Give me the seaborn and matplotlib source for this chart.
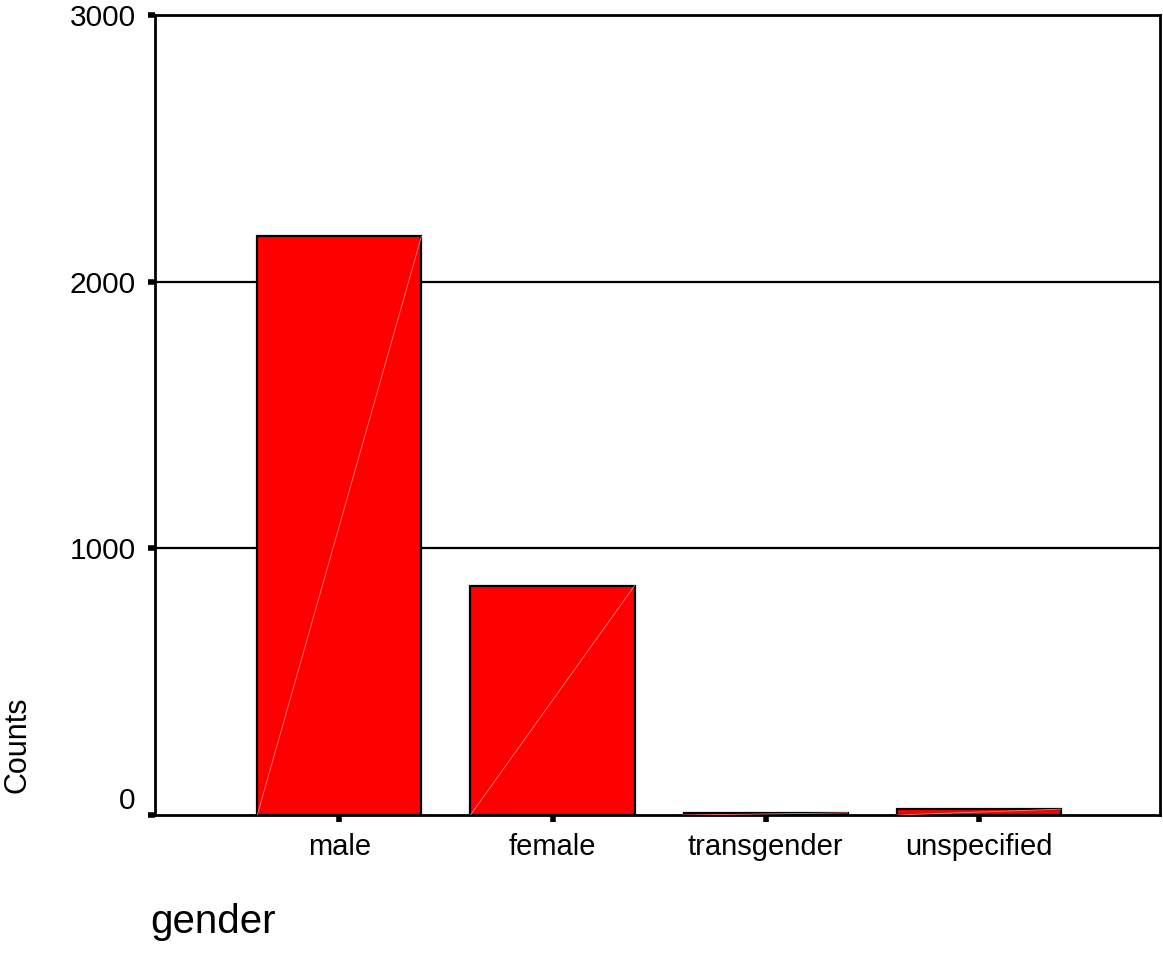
import matplotlib
matplotlib.use("Agg")
import matplotlib.pyplot as plt
import seaborn as sns
import pandas as pd

categories = ["male", "female", "transgender", "unspecified"]
counts = [2170, 860, 8, 22]
yticks = [0, 1000, 2000, 3000]

sns.set_theme(style="white")
plt.rcParams["font.family"] = ["Liberation Sans", "DejaVu Sans"]
plt.rcParams["text.color"] = "black"
plt.rcParams["xtick.color"] = "black"
plt.rcParams["ytick.color"] = "black"
plt.rcParams["axes.labelcolor"] = "black"

df = pd.DataFrame({"gender": categories, "Counts": counts})

fig = plt.figure(figsize=(11.63, 9.6), dpi=100)
ax = fig.add_axes([155 / 1163, 1 - 815 / 960, (1160 - 155) / 1163, (815 - 15) / 960])

for y in [1000, 2000]:
    ax.axhline(y, color="black", lw=1.6, zorder=0)

sns.barplot(data=df, x="gender", y="Counts", ax=ax, color="#ff0000",
            saturation=1, width=0.77, edgecolor="black", linewidth=1.6, zorder=2)

for p in ax.patches:
    x0, w, h = p.get_x(), p.get_width(), p.get_height()
    ax.plot([x0, x0 + w], [0, h], color="#ff8080", lw=0.6, zorder=3)

ax.set_xlim(-0.865, 3.85)
ax.set_ylim(0, 3000)
ax.set_yticks(yticks)
ax.set_yticklabels([str(v) for v in yticks], fontsize=21.5)
ax.tick_params(axis="x", labelsize=21, length=5, width=4, colors="black", direction="out", bottom=True, pad=8)
ax.tick_params(axis="y", length=5, width=4, colors="black", direction="out", left=True, pad=9)
for s in ax.spines.values():
    s.set_color("black")
    s.set_linewidth(2)
ax.set_xlabel("")
ax.set_ylabel("")
lbls = ax.get_yticklabels()
lbls[0].set_va("bottom")

fig.text(18 / 1163, 1 - 745 / 960, "Counts", rotation=90, fontsize=22, ha="center", va="center", color="black")
fig.text(150 / 1163, 1 - 922 / 960, "gender", fontsize=29, ha="left", va="center", color="black")

fig.savefig("out.png", dpi=100, facecolor="white")
